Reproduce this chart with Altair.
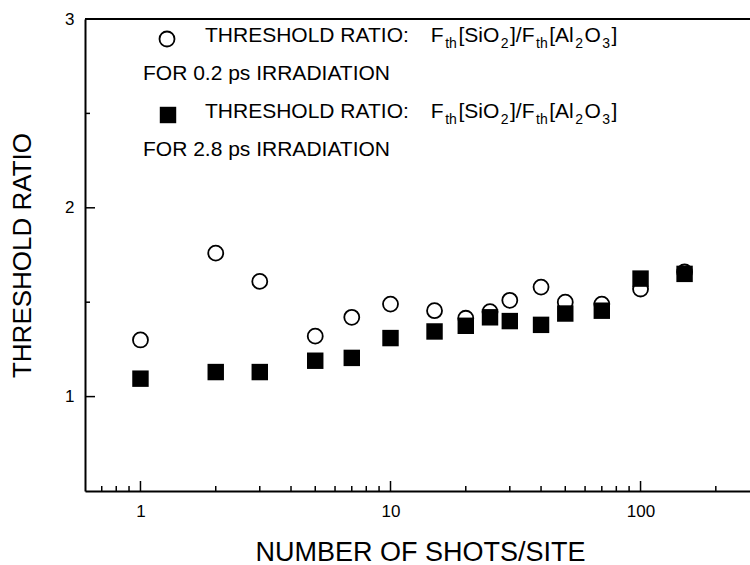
import altair as alt
import pandas as pd

# ---- data -------------------------------------------------------------
shots = [1, 2, 3, 5, 7, 10, 15, 20, 25, 30, 40, 50, 70, 100, 150]
ratio_02ps = [1.30, 1.76, 1.61, 1.32, 1.42, 1.49, 1.455, 1.415, 1.45, 1.51, 1.58, 1.50, 1.49, 1.57, 1.66]
ratio_28ps = [1.095, 1.13, 1.13, 1.19, 1.205, 1.31, 1.345, 1.375, 1.42, 1.40, 1.38, 1.44, 1.455, 1.625, 1.65]

x_major = [1, 10, 100]
x_minor = [0.7, 0.8, 0.9, 2, 3, 4, 5, 6, 7, 8, 9, 20, 30, 40, 50, 60, 70, 80, 90, 200]
y_major = [1, 2, 3]
y_minor = [1.5, 2.5]

x_title = "NUMBER OF SHOTS/SITE"
y_title = "THRESHOLD RATIO"

# legend lines: runs of (text, "n" normal | "s" subscript)
ratio_runs = [("THRESHOLD RATIO:", "n"), ("   ", "n"), ("F", "n"), ("th", "s"), ("[SiO", "n"),
              ("2", "s"), ("]/F", "n"), ("th", "s"), ("[Al", "n"), ("2", "s"), ("O", "n"),
              ("3", "s"), ("]", "n")]
note_02ps = "FOR 0.2 ps IRRADIATION"
note_28ps = "FOR 2.8 ps IRRADIATION"

# ---- layout -----------------------------------------------------------
FONT = "Liberation Sans"
W, H = 665, 472
LEFT, TOP = 85, 19
MAIN, SUB, SUB_DROP = 21, 14, 5.5
RUN_GAP = 1.5      # extra room between chained runs of the legend formula

# Liberation Sans advance widths (1/1000 em), used to chain the legend runs
ADV = {"T": 611, "H": 722, "R": 722, "E": 667, "S": 667, "O": 778, "L": 556, "D": 722,
       " ": 278, "A": 667, "I": 278, ":": 278, "F": 611, "t": 278, "h": 556, "[": 278,
       "i": 222, "]": 278, "/": 278, "l": 222, "2": 556, "3": 556}


def advance(s, size):
    return sum(ADV[c] for c in s) * size / 1000


def text_layer(txt, x, y, size):
    return alt.Chart(alt.Data(values=[{}])).mark_text(
        text=txt, align="left", baseline="alphabetic", font=FONT, fontSize=size, color="black"
    ).encode(x=alt.value(x - LEFT), y=alt.value(y - TOP))


def run_layers(runs, x0, base):
    out, x = [], x0
    for txt, kind in runs:
        size = MAIN if kind == "n" else SUB
        y = base if kind == "n" else base + SUB_DROP
        if txt.strip():
            out.append(text_layer(txt, x, y, size))
        x += advance(txt, size) + RUN_GAP
    return out


xscale = alt.Scale(type="log", domain=[0.6, 274], nice=False)
yscale = alt.Scale(domain=[0.5, 3], nice=False, zero=False)

x_axis = alt.Axis(
    values=x_major, format="d", ticks=False, tickSize=0, grid=False,
    domainColor="black", domainWidth=2, labelFont=FONT, labelFontSize=17,
    labelColor="black", labelPadding=12, labelFlush=False, labelOverlap=False,
    title=x_title, titleFont=FONT, titleFontSize=27, titleFontWeight="normal",
    titleColor="black", titleX=335, titleY=69, titleBaseline="alphabetic")
y_axis = alt.Axis(
    values=y_major, format="d", ticks=False, tickSize=0, grid=False,
    domainColor="black", domainWidth=2, labelFont=FONT, labelFontSize=17,
    labelColor="black", labelPadding=11, labelFlush=False, labelOverlap=False,
    title=y_title, titleFont=FONT, titleFontSize=26, titleFontWeight="normal",
    titleColor="black", titleX=-55, titleY=H / 2, titleBaseline="alphabetic")

df02 = pd.DataFrame({"shots": shots, "ratio": ratio_02ps})
df28 = pd.DataFrame({"shots": shots, "ratio": ratio_28ps})

circles = alt.Chart(df02).mark_point(
    shape="circle", filled=False, size=225, strokeWidth=1.8, color="black", opacity=1
).encode(
    x=alt.X("shots:Q", scale=xscale, axis=x_axis),
    y=alt.Y("ratio:Q", scale=yscale, axis=y_axis),
)

squares = alt.Chart(df28).mark_square(size=270, color="black", opacity=1).encode(
    x=alt.X("shots:Q", scale=xscale, axis=x_axis),
    y=alt.Y("ratio:Q", scale=yscale, axis=y_axis),
)


def x_ticks(vals, length):
    return alt.Chart(pd.DataFrame({"shots": vals})).mark_rule(color="black", strokeWidth=1.5).encode(
        x=alt.X("shots:Q", scale=xscale, axis=x_axis), y=alt.value(H), y2=alt.value(H - length))


def y_ticks(vals, length):
    return alt.Chart(pd.DataFrame({"ratio": vals})).mark_rule(color="black", strokeWidth=1.5).encode(
        y=alt.Y("ratio:Q", scale=yscale, axis=y_axis), x=alt.value(0), x2=alt.value(length))


top_spine = alt.Chart(alt.Data(values=[{}])).mark_rule(color="black", strokeWidth=2).encode(
    x=alt.value(0), x2=alt.value(W), y=alt.value(0))

key_circle = alt.Chart(alt.Data(values=[{}])).mark_point(
    shape="circle", filled=False, size=225, strokeWidth=1.8, color="black", opacity=1
).encode(x=alt.value(167 - LEFT), y=alt.value(39 - TOP))
key_square = alt.Chart(alt.Data(values=[{}])).mark_square(size=270, color="black", opacity=1).encode(
    x=alt.value(168 - LEFT), y=alt.value(115 - TOP))

legend = (run_layers(ratio_runs, 205, 42)
          + [text_layer(note_02ps, 143, 80, MAIN)]
          + run_layers(ratio_runs, 205, 118)
          + [text_layer(note_28ps, 143, 156, MAIN)])

chart = alt.layer(
    circles, squares,
    x_ticks(x_major, 10), x_ticks(x_minor, 5), y_ticks(y_major, 10), y_ticks(y_minor, 5),
    top_spine, key_circle, key_square, *legend
).properties(
    width=W, height=H,
    autosize=alt.AutoSizeParams(type="none"),
    padding={"left": LEFT, "top": TOP, "right": 0, "bottom": 565 - TOP - H},
).configure_view(stroke=None).configure(background="white")

chart.save("out.html", embed_options={"renderer": "svg", "actions": False})
